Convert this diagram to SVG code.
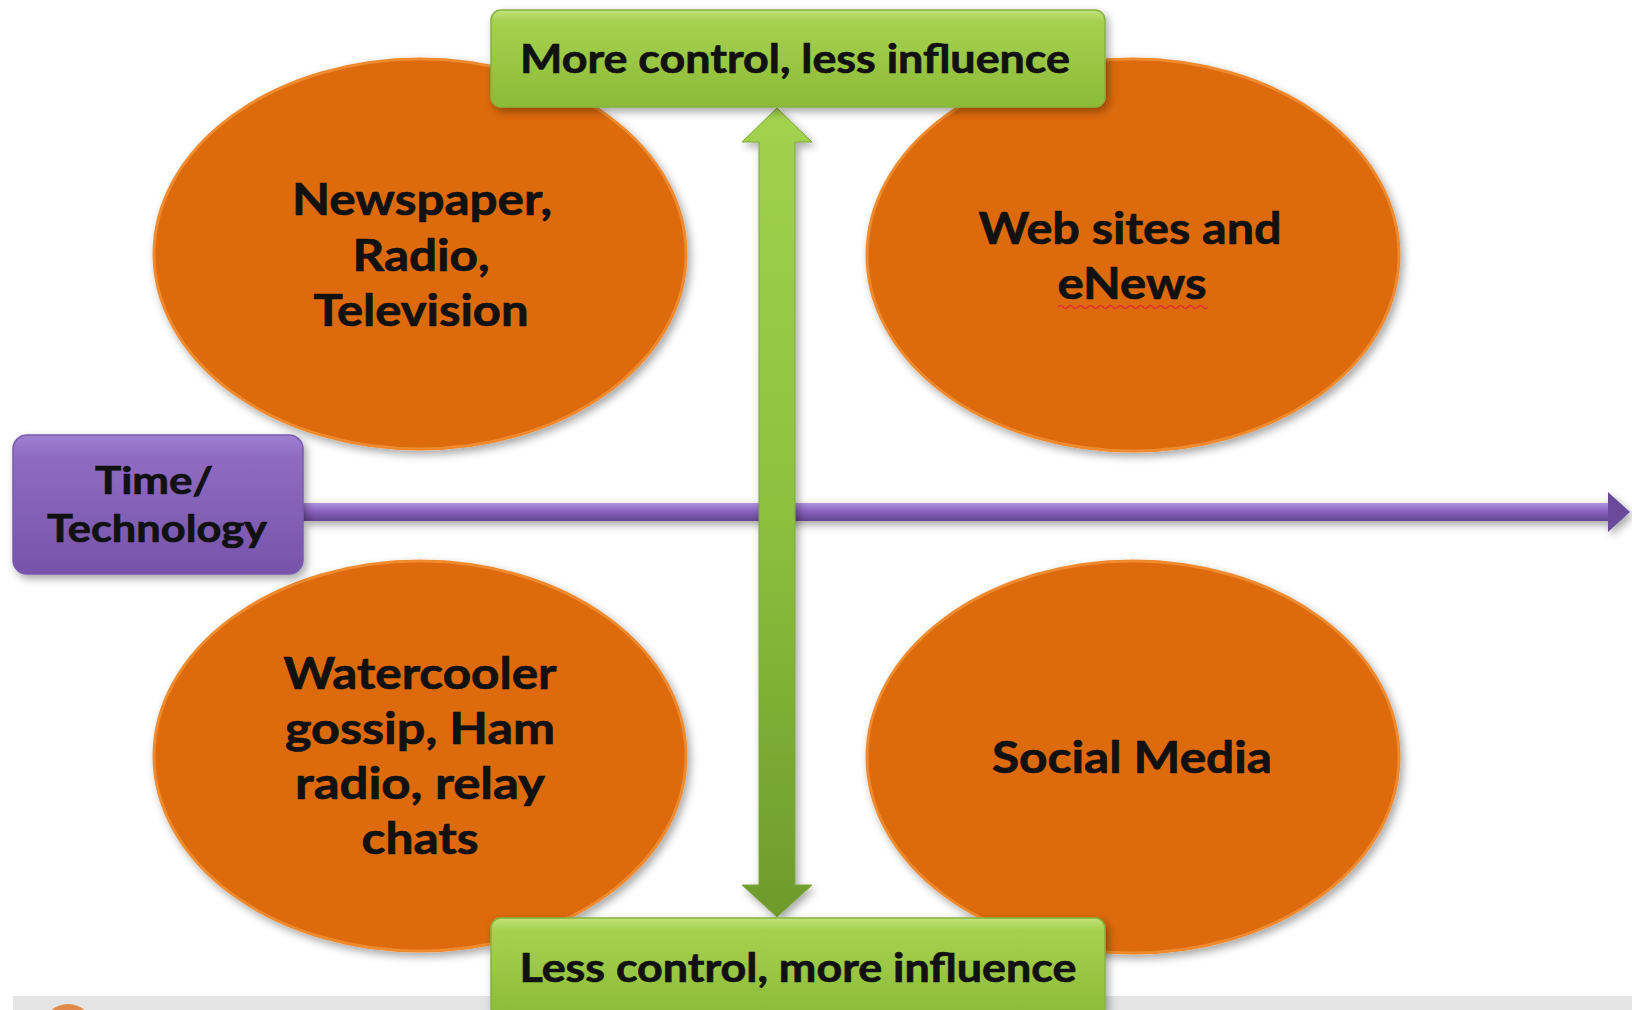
<svg xmlns="http://www.w3.org/2000/svg" width="1632" height="1010" viewBox="0 0 1632 1010">
  <style>
    .lbl { font-family: Lato, "Liberation Sans", sans-serif; font-weight: bold; fill: #111; stroke: #111; stroke-width: 0.7; text-anchor: middle; }
    .oval { fill: #dd6a0c; stroke: #f08a2e; stroke-width: 3; filter: url(#shadow); }
  </style>
  <defs>
    <filter id="shadow" x="-10%" y="-10%" width="125%" height="130%">
      <feDropShadow dx="3" dy="4" stdDeviation="4" flood-color="#000" flood-opacity="0.35"/>
    </filter>
    <linearGradient id="greenBox" x1="0" y1="0" x2="0" y2="1">
      <stop offset="0" stop-color="#c2e27a"/>
      <stop offset="0.12" stop-color="#a6d14f"/>
      <stop offset="1" stop-color="#8bbb38"/>
    </linearGradient>
    <linearGradient id="purpleBox" x1="0" y1="0" x2="0" y2="1">
      <stop offset="0" stop-color="#a07fd0"/>
      <stop offset="0.15" stop-color="#8f6cc2"/>
      <stop offset="1" stop-color="#7753ab"/>
    </linearGradient>
    <linearGradient id="purpleLine" x1="0" y1="0" x2="0" y2="1">
      <stop offset="0" stop-color="#b093e0"/>
      <stop offset="0.4" stop-color="#8d68c3"/>
      <stop offset="1" stop-color="#62448f"/>
    </linearGradient>
    <linearGradient id="greenArrow" x1="0" y1="0" x2="0" y2="1">
      <stop offset="0" stop-color="#a2d24e"/>
      <stop offset="0.5" stop-color="#8ec03e"/>
      <stop offset="1" stop-color="#6e9a2c"/>
    </linearGradient>
  </defs>

  <rect x="0" y="0" width="1632" height="1010" fill="#ffffff"/>

  <!-- footer band -->
  <rect x="13" y="996" width="1619" height="14" fill="#e4e4e4"/>
  <ellipse cx="68" cy="1026" rx="24" ry="22" fill="#e07a30" opacity="0.85"/>

  <!-- nodes: ovals -->
  <g id="node-traditional">
    <ellipse class="oval" cx="420" cy="254" rx="266" ry="195"/>
    <text class="lbl" font-size="44" x="422" y="215" textLength="260" lengthAdjust="spacingAndGlyphs">Newspaper,</text>
    <text class="lbl" font-size="44" x="421" y="271" textLength="137" lengthAdjust="spacingAndGlyphs">Radio,</text>
    <text class="lbl" font-size="44" x="421" y="326" textLength="215" lengthAdjust="spacingAndGlyphs">Television</text>
  </g>
  <g id="node-web">
    <ellipse class="oval" cx="1133" cy="255" rx="266" ry="196"/>
    <text class="lbl" font-size="44" x="1130" y="244" textLength="303" lengthAdjust="spacingAndGlyphs">Web sites and</text>
    <text class="lbl" font-size="44" x="1132" y="299" textLength="149" lengthAdjust="spacingAndGlyphs">eNews</text>
    <path d="M1058 307 q2.5 -3 5 0 t5 0 t5 0 t5 0 t5 0 t5 0 t5 0 t5 0 t5 0 t5 0 t5 0 t5 0 t5 0 t5 0 t5 0 t5 0 t5 0 t5 0 t5 0 t5 0 t5 0 t5 0 t5 0 t5 0 t5 0 t5 0 t5 0 t5 0 t5 0 t5 0" fill="none" stroke="#e03030" stroke-width="1.5"/>
  </g>
  <g id="node-watercooler">
    <ellipse class="oval" cx="420" cy="756" rx="266" ry="195"/>
    <text class="lbl" font-size="44" x="420" y="689" textLength="273" lengthAdjust="spacingAndGlyphs">Watercooler</text>
    <text class="lbl" font-size="44" x="420" y="744" textLength="270" lengthAdjust="spacingAndGlyphs">gossip, Ham</text>
    <text class="lbl" font-size="44" x="420" y="799" textLength="250" lengthAdjust="spacingAndGlyphs">radio, relay</text>
    <text class="lbl" font-size="44" x="420" y="854" textLength="117" lengthAdjust="spacingAndGlyphs">chats</text>
  </g>
  <g id="node-social">
    <ellipse class="oval" cx="1133" cy="757" rx="266" ry="196"/>
    <text class="lbl" font-size="44" x="1132" y="773" textLength="280" lengthAdjust="spacingAndGlyphs">Social Media</text>
  </g>

  <!-- connectors -->
  <g id="connectors">
    <g id="time-axis" filter="url(#shadow)">
      <rect x="303" y="503" width="1308" height="18" fill="url(#purpleLine)"/>
      <polygon points="1608,492 1630,512 1608,532" fill="#6a4b9b"/>
    </g>
    <g id="control-axis" filter="url(#shadow)">
      <polygon points="777,108 812,142 795,142 795,885 812,885 777,917 742,885 759,885 759,142 742,142" fill="url(#greenArrow)" stroke="#7da83a" stroke-width="1"/>
    </g>
  </g>

  <g id="node-time">
    <rect x="13" y="435" width="290" height="139" rx="14" fill="url(#purpleBox)" stroke="#7a5aae" stroke-width="1.5" filter="url(#shadow)"/>
    <text class="lbl" font-size="38" x="154" y="494" textLength="118" lengthAdjust="spacingAndGlyphs">Time/</text>
    <text class="lbl" font-size="38" x="157" y="542" textLength="220" lengthAdjust="spacingAndGlyphs">Technology</text>
  </g>

  <g id="node-more-control">
    <rect x="491" y="10" width="614" height="97" rx="10" fill="url(#greenBox)" stroke="#86b23c" stroke-width="1.5" filter="url(#shadow)"/>
    <text class="lbl" font-size="40" x="795" y="73" textLength="550" lengthAdjust="spacingAndGlyphs">More control, less influence</text>
  </g>
  <g id="node-less-control">
    <rect x="491" y="918" width="614" height="100" rx="10" fill="url(#greenBox)" stroke="#86b23c" stroke-width="1.5" filter="url(#shadow)"/>
    <text class="lbl" font-size="40" x="798" y="982" textLength="557" lengthAdjust="spacingAndGlyphs">Less control, more influence</text>
  </g>
</svg>
